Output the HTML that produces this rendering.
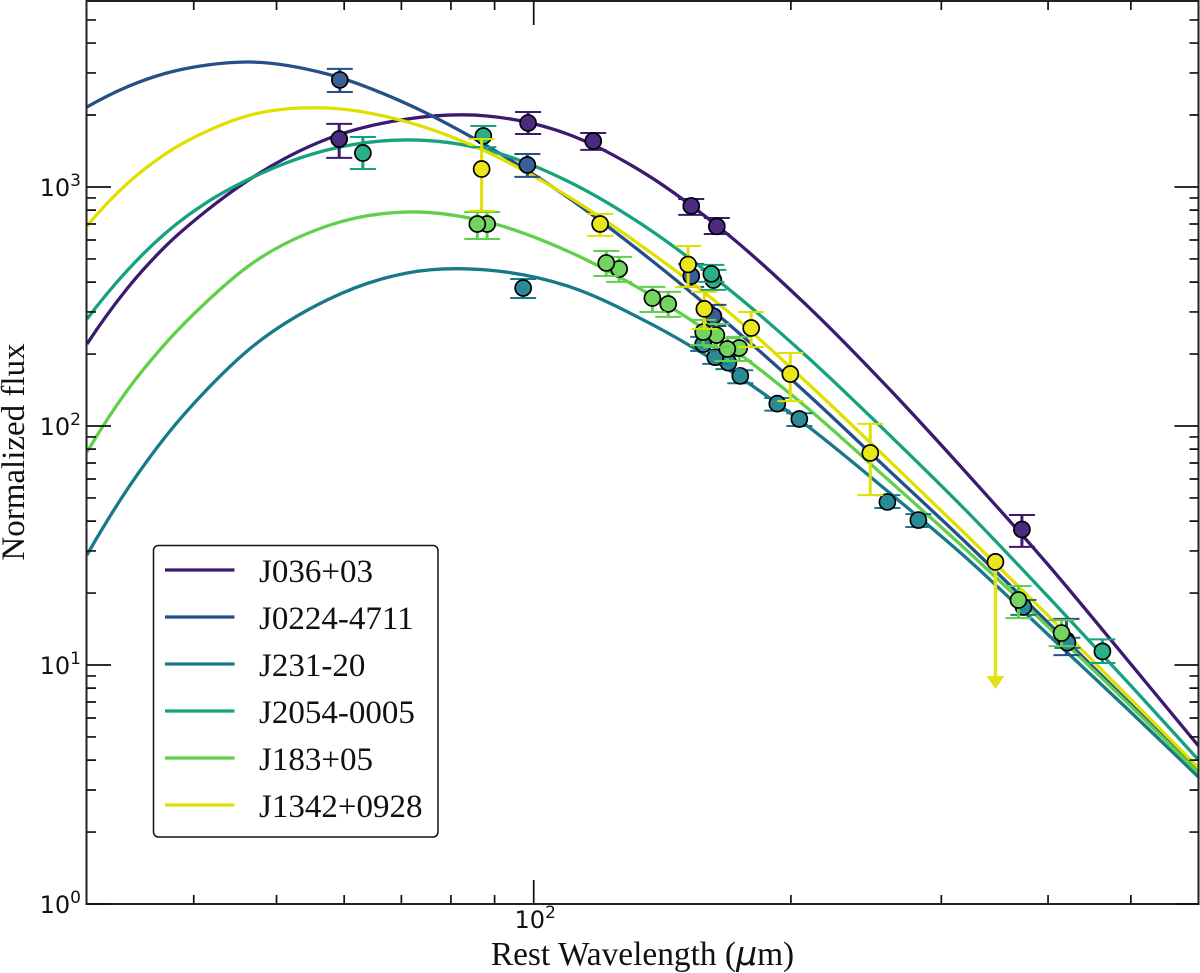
<!DOCTYPE html>
<html lang="en">
<head>
<meta charset="utf-8">
<title>Normalized flux vs rest wavelength</title>
<style>
html,body{margin:0;padding:0;background:#fff;width:1200px;height:973px;overflow:hidden}
svg{display:block}
.tick-label{font-family:"DejaVu Sans",sans-serif;font-size:24px;fill:#111}
.serif-label{font-family:"Liberation Serif",serif;font-size:33px;fill:#111}
</style>
</head>
<body>
<svg id="chart" xmlns="http://www.w3.org/2000/svg" width="1200" height="973" viewBox="0 0 1200 973">
  <defs><clipPath id="plot-clip"><rect x="87" y="1" width="1111.5" height="903"></rect></clipPath></defs>
  <g id="curves" clip-path="url(#plot-clip)"></g>
  <g id="points"></g>
  <g id="axes"></g>
  <text class="serif-label" x="642.5" y="965" text-anchor="middle" style="font-size:33.4px">Rest Wavelength (<tspan font-family="'DejaVu Sans',sans-serif" font-style="italic" font-size="33">μ</tspan>m)</text>
  <text class="serif-label" transform="translate(24,452) rotate(-90)" text-anchor="middle">Normalized flux</text>
  <g id="legend"></g>
</svg>
<script>
// Axis limits
const xDomain = [30, 600];
const yDomain = [1, 6000];

// Axis ticks
const xMajorTicks = [100];
const xMajorLabels = ["2"];
const xMinorTicks = [40, 50, 60, 70, 80, 90, 200, 300, 400, 500];
const yMajorTicks = [1, 10, 100, 1000];
const yMajorLabels = ["0", "1", "2", "3"];
const yMinorTicks = [2, 3, 4, 5, 6, 7, 8, 9, 20, 30, 40, 50, 60, 70, 80, 90, 200, 300, 400, 500, 600, 700, 800, 900, 2000, 3000, 4000, 5000];

// Model curves
const curveWave = [30, 33.4, 37.2, 41.5, 46.2, 57.3, 71.1, 88.2, 109.5, 135.8, 168.5, 209.1, 259.4, 321.9, 399.3, 495.5, 600];
const curveJ036 = [220.4, 374.3, 571.9, 801.2, 1059.5, 1587.5, 1925, 1982, 1666, 1122.8, 635.7, 317.8, 145.6, 62.99, 26.46, 10.49, 4.583];
const curveJ0224 = [2161, 2621, 2999, 3239, 3334, 2970, 2225, 1484, 908, 509.4, 269.8, 136.1, 66.1, 32.08, 15.13, 7.07, 3.567];
const curveJ231 = [28.86, 53.97, 91.7, 142.8, 206, 336.7, 436.8, 449.5, 385.3, 272.4, 173.2, 100, 53.46, 27.76, 13.48, 6.544, 3.399];
const curveJ2054 = [280.4, 445.1, 648.2, 865.4, 1069.8, 1428, 1573, 1428, 1059.5, 673.8, 378, 194.4, 93.5, 43.67, 19.45, 8.49, 4.004];
const curveJ183 = [77.8, 140.1, 224.6, 333.4, 462.6, 686.7, 786, 714, 539.8, 360.2, 218.2, 118.9, 60, 29.99, 14.56, 6.935, 3.533];
const curveJ1342 = [686.7, 1029.4, 1388, 1715, 1982, 2140, 1871, 1401, 917, 545, 302.9, 151.3, 72.8, 34.65, 16.19, 7.42, 3.707];

// Photometry: wavelength, flux, lower and upper error-bar ends
const waveJ036 = [59.2, 98.5, 117.4, 152.9, 163.8, 372.8];
const fluxJ036 = [1588, 1853, 1557, 833, 684, 36.9];
const lowJ036 = [1323, 1667, 1429, 764, 636, 31.2];
const highJ036 = [1836, 2060, 1683, 891, 742, 42.4];

const waveJ0224 = [59.3, 98.3, 152.9, 162.3, 420.3];
const fluxJ0224 = [2805, 1236, 424, 288, 12.7];
const lowJ0224 = [2496, 1102, 382, 262, 11.0];
const highJ0224 = [3119, 1374, 476, 321, 15.6];

const waveJ231 = [97.2, 157.9, 163.1, 169.0, 174.5, 192.8, 204.6, 259.4, 282.0, 374.3, 421.4];
const fluxJ231 = [378, 220, 194, 184, 162, 124, 107, 48.1, 40.4, 17.5, 12.4];
const lowJ231 = [343, 206, 182, 173, 151, 116, 100, 45.4, 37.8, 16.2, 11.8];
const highJ231 = [412, 236, 208, 196, 171, 131, 113, 51.4, 42.8, 18.7, 13.0];

const waveJ2054 = [63.1, 87.3, 161.4, 162.3, 463.1];
const fluxJ2054 = [1387, 1634, 433, 408, 11.4];
const lowJ2054 = [1189, 1469, 401, 371, 10.2];
const highJ2054 = [1618, 1799, 472, 450, 12.8];

const waveJ183 = [85.9, 88.2, 121.6, 125.9, 137.7, 143.7, 157.9, 163.6, 168.5, 174.0, 369.3, 414.8];
const fluxJ183 = [700, 700, 481, 454, 343, 324, 247, 240, 210, 212, 18.7, 13.6];
const lowJ183 = [606, 606, 424, 401, 300, 286, 218, 214, 187, 187, 15.7, 12.0];
const highJ183 = [786, 786, 540, 510, 382, 364, 278, 267, 233, 236, 21.4, 15.4];

const waveJ1342 = [86.9, 119.6, 151.6, 158.4, 179.7, 199.7, 247.7];
const fluxJ1342 = [1189, 700, 474, 309, 257, 165, 77.1];
const lowJ1342 = [794, 624, 382, 255, 214, 127, 51.4];
const highJ1342 = [1588, 771, 566, 364, 300, 202, 102];

// Upper limit for J1342+0928
const limitWave = [347.1];
const limitFlux = [27.0];
const limitTip = [7.94];

const seriesNames = ["J036+03", "J0224-4711", "J231-20", "J2054-0005", "J183+05", "J1342+0928"];
const seriesKeys = ["j036", "j0224", "j231", "j2054", "j183", "j1342"];
const lineColors = ["#3d1a70", "#24508a", "#17798a", "#14a37e", "#60d04a", "#e0e000"];
const dotColors = ["#4b2a82", "#3a5f96", "#2a8a98", "#2ab088", "#74d460", "#e9e61c"];
const curveSets = [curveJ036, curveJ0224, curveJ231, curveJ2054, curveJ183, curveJ1342];
const waveSets = [waveJ036, waveJ0224, waveJ231, waveJ2054, waveJ183, waveJ1342];
const fluxSets = [fluxJ036, fluxJ0224, fluxJ231, fluxJ2054, fluxJ183, fluxJ1342];
const lowSets = [lowJ036, lowJ0224, lowJ231, lowJ2054, lowJ183, lowJ1342];
const highSets = [highJ036, highJ0224, highJ231, highJ2054, highJ183, highJ1342];

// Plot frame and axis functions
const plotLeft = 87, plotRight = 1198.5, plotTop = 1, plotBottom = 904;
function xScale(v) {
  return plotLeft + (Math.log10(v) - Math.log10(xDomain[0])) / (Math.log10(xDomain[1]) - Math.log10(xDomain[0])) * (plotRight - plotLeft);
}
function yScale(v) {
  return plotBottom - (Math.log10(v) - Math.log10(yDomain[0])) / (Math.log10(yDomain[1]) - Math.log10(yDomain[0])) * (plotBottom - plotTop);
}

const SVGNS = "http://www.w3.org/2000/svg";
function make(tag, parent, attrs) {
  const el = document.createElementNS(SVGNS, tag);
  for (const k in attrs) el.setAttribute(k, attrs[k]);
  parent.appendChild(el);
  return el;
}

// Smooth path through samples (cubic Hermite in pixel space)
function curvePath(xs, ys) {
  const n = xs.length, m = [];
  for (let i = 0; i < n; i++) {
    if (i === 0) m.push((ys[1] - ys[0]) / (xs[1] - xs[0]) - ((ys[2] - ys[1]) / (xs[2] - xs[1]) - (ys[1] - ys[0]) / (xs[1] - xs[0])) / 2);
    else if (i === n - 1) m.push((ys[n - 1] - ys[n - 2]) / (xs[n - 1] - xs[n - 2]));
    else {
      const h0 = xs[i] - xs[i - 1], h1 = xs[i + 1] - xs[i];
      const s0 = (ys[i] - ys[i - 1]) / h0, s1 = (ys[i + 1] - ys[i]) / h1;
      m.push((s0 * h1 + s1 * h0) / (h0 + h1));
    }
  }
  let d = "M" + xs[0].toFixed(2) + " " + ys[0].toFixed(2);
  for (let i = 0; i < n - 1; i++) {
    const h = xs[i + 1] - xs[i];
    d += "C" + (xs[i] + h / 3).toFixed(2) + " " + (ys[i] + m[i] * h / 3).toFixed(2) + " " +
      (xs[i + 1] - h / 3).toFixed(2) + " " + (ys[i + 1] - m[i + 1] * h / 3).toFixed(2) + " " +
      xs[i + 1].toFixed(2) + " " + ys[i + 1].toFixed(2);
  }
  return d;
}

const curvesG = document.getElementById("curves");
const pointsG = document.getElementById("points");
const axesG = document.getElementById("axes");
const legendG = document.getElementById("legend");

// Curves
seriesNames.forEach(function (name, s) {
  const p = make("path", curvesG, {
    d: curvePath(curveWave.map(xScale), curveSets[s].map(yScale)),
    fill: "none", stroke: lineColors[s], "stroke-width": 3.3
  });
  
  
});

// Points with error bars
const capHalf = 13;
seriesNames.forEach(function (name, s) {
  const g = make("g", pointsG, {});
  
  
  const waves = waveSets[s], flux = fluxSets[s], low = lowSets[s], high = highSets[s];
  for (let i = waves.length - 1; i >= 0; i--) {
    const x = xScale(waves[i]);
    const stem = make("line", g, {
      x1: x, x2: x, y1: yScale(low[i]), y2: yScale(high[i]),
      stroke: lineColors[s], "stroke-width": 3
    });
    
    
    const caps = make("path", g, {
      d: "M" + (x - capHalf) + " " + yScale(low[i]) + "h" + (2 * capHalf) +
         "M" + (x - capHalf) + " " + yScale(high[i]) + "h" + (2 * capHalf),
      fill: "none", stroke: lineColors[s], "stroke-width": 2
    });
    
    
    const dot = make("circle", g, {
      cx: x, cy: yScale(flux[i]), r: 8,
      fill: dotColors[s], stroke: "#000", "stroke-width": 1.7
    });
    
    
  }
});

// Upper limit arrow
limitWave.forEach(function (w, i) {
  const x = xScale(w), y0 = yScale(limitFlux[i]), y1 = yScale(limitTip[i]);
  const shaft = make("line", pointsG, { x1: x, y1: y0, x2: x, y2: y1 - 12, stroke: "#e2e21a", "stroke-width": 3.5 });
  
  
  const head = make("polygon", pointsG, {
    points: (x - 9) + "," + (y1 - 13) + " " + (x + 9) + "," + (y1 - 13) + " " + x + "," + y1,
    fill: "#e2e21a"
  });
  
  
  const dot = make("circle", pointsG, {
    cx: x, cy: y0, r: 8, fill: dotColors[5], stroke: "#000", "stroke-width": 1.7
  });
  
  
});

// Axes frame
const frame = make("rect", axesG, {
  x: 86.5, y: 1, width: 1112, height: 903, fill: "none", stroke: "#222", "stroke-width": 2
});



const tickStyle = { stroke: "#111", fill: "none" };
function tickPath(d, w, label) {
  const t = make("path", axesG, { d: d, stroke: tickStyle.stroke, fill: tickStyle.fill, "stroke-width": w });
  
  
}
const majorLen = 24, minorLen = 9;
let dMinor = "", dMajor = "";
xMinorTicks.forEach(function (v) {
  const x = xScale(v);
  dMinor += "M" + x + " " + plotBottom + "v" + (-minorLen) + "M" + x + " " + plotTop + "v" + minorLen;
});
xMajorTicks.forEach(function (v) {
  const x = xScale(v);
  dMajor += "M" + x + " " + plotBottom + "v" + (-majorLen) + "M" + x + " " + plotTop + "v" + majorLen;
});
tickPath(dMinor, 1.7, "x-minor-ticks");
tickPath(dMajor, 1.7, "x-major-ticks");
dMinor = ""; dMajor = "";
yMinorTicks.forEach(function (v) {
  const y = yScale(v);
  dMinor += "M" + plotLeft + " " + y + "h" + minorLen + "M" + plotRight + " " + y + "h" + (-minorLen);
});
yMajorTicks.forEach(function (v) {
  const y = yScale(v);
  dMajor += "M" + plotLeft + " " + y + "h" + majorLen + "M" + plotRight + " " + y + "h" + (-majorLen);
});
tickPath(dMinor, 1.7, "y-minor-ticks");
tickPath(dMajor, 1.7, "y-major-ticks");

function powerLabel(x, y, anchor, exp, label) {
  const t = make("text", axesG, { x: x, y: y, "text-anchor": anchor, "class": "tick-label" });
  
  
  t.appendChild(document.createTextNode("10"));
  const sup = make("tspan", t, { dy: -10, "font-size": 17 });
  sup.textContent = exp;
}
xMajorTicks.forEach(function (v, i) {
  powerLabel(xScale(v) + 1.5, 928, "middle", xMajorLabels[i], "x-tick-label");
});
yMajorTicks.forEach(function (v, i) {
  powerLabel(81, yScale(v) + 9, "end", yMajorLabels[i], "y-tick-label");
});

// Legend
const box = make("rect", legendG, {
  x: 153.5, y: 545.5, width: 284.5, height: 291.5, rx: 5, ry: 5,
  fill: "#fff", stroke: "#111", "stroke-width": 1.5
});


seriesNames.forEach(function (name, s) {
  const y = 570 + 47 * s;
  const line = make("line", legendG, { x1: 165, x2: 234.5, y1: y, y2: y, stroke: lineColors[s], "stroke-width": 3.3 });
  
  
  const label = make("text", legendG, { x: 259, y: y + 12, "class": "serif-label" });
  
  
  label.textContent = name;
});
</script>
</body>
</html>
